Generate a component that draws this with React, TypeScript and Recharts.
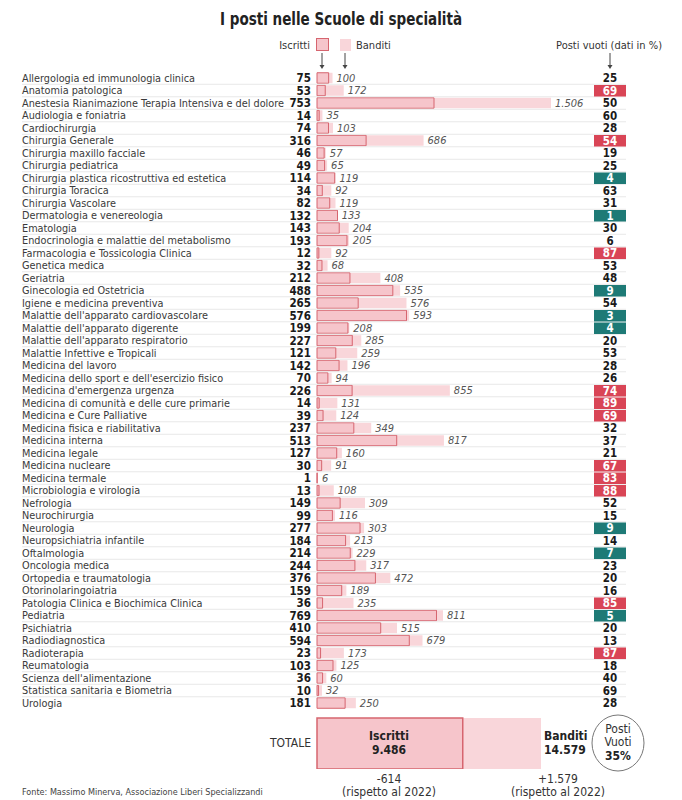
import React from 'react'
import { BarChart, Bar, XAxis, YAxis, LabelList } from 'recharts'

const scuole = [
  'Allergologia ed immunologia clinica',
  'Anatomia patologica',
  'Anestesia Rianimazione Terapia Intensiva e del dolore',
  'Audiologia e foniatria',
  'Cardiochirurgia',
  'Chirurgia Generale',
  'Chirurgia maxillo facciale',
  'Chirurgia pediatrica',
  'Chirurgia plastica ricostruttiva ed estetica',
  'Chirurgia Toracica',
  'Chirurgia Vascolare',
  'Dermatologia e venereologia',
  'Ematologia',
  'Endocrinologia e malattie del metabolismo',
  'Farmacologia e Tossicologia Clinica',
  'Genetica medica',
  'Geriatria',
  'Ginecologia ed Ostetricia',
  'Igiene e medicina preventiva',
  "Malattie dell'apparato cardiovascolare",
  "Malattie dell'apparato digerente",
  "Malattie dell'apparato respiratorio",
  'Malattie Infettive e Tropicali',
  'Medicina del lavoro',
  "Medicina dello sport e dell'esercizio fisico",
  "Medicina d'emergenza urgenza",
  'Medicina di comunità e delle cure primarie',
  'Medicina e Cure Palliative',
  'Medicina fisica e riabilitativa',
  'Medicina interna',
  'Medicina legale',
  'Medicina nucleare',
  'Medicina termale',
  'Microbiologia e virologia',
  'Nefrologia',
  'Neurochirurgia',
  'Neurologia',
  'Neuropsichiatria infantile',
  'Oftalmologia',
  'Oncologia medica',
  'Ortopedia e traumatologia',
  'Otorinolaringoiatria',
  'Patologia Clinica e Biochimica Clinica',
  'Pediatria',
  'Psichiatria',
  'Radiodiagnostica',
  'Radioterapia',
  'Reumatologia',
  "Scienza dell'alimentazione",
  'Statistica sanitaria e Biometria',
  'Urologia',
]

const iscritti = [
  75, 53, 753, 14, 74, 316, 46, 49, 114, 34, 82, 132, 143, 193, 12, 32, 212, 488, 265, 576, 199, 227, 121, 142, 70, 226,
  14, 39, 237, 513, 127, 30, 1, 13, 149, 99, 277, 184, 214, 244, 376, 159, 36, 769, 410, 594, 23, 103, 36, 10, 181,
]

const banditi = [
  100, 172, 1506, 35, 103, 686, 57, 65, 119, 92, 119, 133, 204, 205, 92, 68, 408, 535, 576, 593, 208, 285, 259, 196, 94,
  855, 131, 124, 349, 817, 160, 91, 6, 108, 309, 116, 303, 213, 229, 317, 472, 189, 235, 811, 515, 679, 173, 125, 60, 32,
  250,
]

const postiVuoti = [
  25, 69, 50, 60, 28, 54, 19, 25, 4, 63, 31, 1, 30, 6, 87, 53, 48, 9, 54, 3, 4, 20, 53, 28, 26, 74, 89, 69, 32, 37, 21, 67,
  83, 88, 52, 15, 9, 14, 7, 23, 20, 16, 85, 5, 20, 13, 87, 18, 40, 69, 28,
]

// r = evidenziato rosso, t = evidenziato verde
const evidenza = [
  '', 'r', '', '', '', 'r', '', '', 't', '', '', 't', '', '', 'r', '', '', 't', '', 't', 't', '', '', '', '', 'r', 'r',
  'r', '', '', '', 'r', 'r', 'r', '', '', 't', '', 't', '', '', '', 'r', 't', '', '', 'r', '', '', '', '',
]

const totale = { iscritti: 9486, banditi: 14579, vuoti: 35, deltaIscritti: '-614', deltaBanditi: '+1.579' }

const FONT = "'Liberation Sans Narrow', 'DejaVu Sans Condensed', 'Roboto', sans-serif"
const PINK = '#f6c5cb'
const PINK_LIGHT = '#f9d6da'
const PINK_STROKE = '#d6656f'
const RED = '#d94556'
const TEAL = '#1e7a76'
const COL_X = 610

const fmt = (n: number) => String(n).replace(/\B(?=(\d{3})+(?!\d))/g, '.')

const data = scuole.map((name, i) => ({ name, iscritti: iscritti[i], banditi: banditi[i] }))
const totData = [{ name: 'TOTALE', iscritti: totale.iscritti, banditi: totale.banditi }]

const RowTick = (props: any) => {
  const { y, payload } = props
  const i = payload.index
  const ev = evidenza[i]
  return (
    <g fontFamily={FONT}>
      {i < scuole.length - 1 && (
        <line x1={22} x2={626} y1={y + 6.25} y2={y + 6.25} stroke="#e8e8e8" strokeWidth={1} />
      )}
      <text x={22} y={y} dy="0.36em" fontSize={10.8} fill="#3a3a3a">
        {payload.value}
      </text>
      <text x={311} y={y} dy="0.36em" fontSize={11.5} fontWeight="bold" fill="#1a1a1a" textAnchor="end">
        {iscritti[i]}
      </text>
      {ev && <rect x={COL_X - 16} y={y - 5.5} width={32} height={11.5} fill={ev === 'r' ? RED : TEAL} />}
      <text
        x={COL_X}
        y={y}
        dy="0.36em"
        fontSize={11.5}
        fontWeight="bold"
        fill={ev ? '#ffffff' : '#1a1a1a'}
        textAnchor="middle"
      >
        {postiVuoti[i]}
      </text>
    </g>
  )
}

const BanditoLabel = (props: any) => {
  const { x, y, width, height, value } = props
  return (
    <text
      x={x + width + 4}
      y={y + height / 2}
      dy="0.36em"
      fontSize={11}
      fontStyle="italic"
      fill="#555"
      fontFamily={FONT}
    >
      {fmt(value)}
    </text>
  )
}

const Arrow = ({ x, y1, y2 }: { x: number; y1: number; y2: number }) => (
  <g stroke="#444" strokeWidth={1} fill="#444">
    <line x1={x} x2={x} y1={y1} y2={y2 - 3} />
    <path d={`M${x - 2.5},${y2 - 4} L${x + 2.5},${y2 - 4} L${x},${y2} Z`} stroke="none" />
  </g>
)

export default function App() {
  return (
    <div
      style={{
        position: 'absolute',
        left: 0,
        top: 0,
        width: 682,
        height: 800,
        background: '#fff',
        fontFamily: FONT,
        color: '#333',
      }}
    >
      <svg width={682} height={72} style={{ position: 'absolute', left: 0, top: 0 }} fontFamily={FONT}>
        <text
          x={220}
          y={25}
          fontSize={18}
          fontWeight="bold"
          fill="#222"
          textLength={242}
          lengthAdjust="spacingAndGlyphs"
        >
          I posti nelle Scuole di specialità
        </text>
        <text x={310} y={45} dy="0.36em" fontSize={11} textAnchor="end" fill="#333">
          Iscritti
        </text>
        <rect x={316.5} y={38.5} width={12} height={12} fill={PINK} stroke={PINK_STROKE} />
        <rect x={340} y={39} width={11} height={12} fill={PINK_LIGHT} />
        <text x={356} y={45} dy="0.36em" fontSize={11} fill="#333">
          Banditi
        </text>
        <text x={662} y={45} dy="0.36em" fontSize={11} textAnchor="end" fill="#333">
          Posti vuoti (dati in %)
        </text>
        <Arrow x={322} y1={53} y2={69} />
        <Arrow x={345} y1={53} y2={69} />
        <Arrow x={COL_X} y1={53} y2={69} />
      </svg>

      <div style={{ position: 'absolute', left: 0, top: 0 }}>
        <BarChart
          width={682}
          height={720}
          data={data}
          layout="vertical"
          margin={{ top: 71.75, right: 131, bottom: 10.75, left: 0 }}
          barGap={-10.5}
        >
          <XAxis type="number" domain={[0, 1506]} hide />
          <YAxis
            type="category"
            dataKey="name"
            width={317}
            axisLine={false}
            tickLine={false}
            interval={0}
            tick={<RowTick />}
          />
          <Bar dataKey="banditi" barSize={10.5} fill={PINK_LIGHT} isAnimationActive={false}>
            <LabelList dataKey="banditi" content={<BanditoLabel />} />
          </Bar>
          <Bar
            dataKey="iscritti"
            barSize={10.5}
            fill={PINK}
            stroke={PINK_STROKE}
            strokeWidth={1}
            isAnimationActive={false}
          />
        </BarChart>
      </div>

      <div style={{ position: 'absolute', left: 0, top: 717 }}>
        <BarChart
          width={682}
          height={52}
          data={totData}
          layout="vertical"
          margin={{ top: 0, right: 141, bottom: 0, left: 317 }}
          barGap={-51}
        >
          <XAxis type="number" domain={[0, totale.banditi]} hide />
          <YAxis type="category" dataKey="name" hide />
          <Bar dataKey="banditi" barSize={51} fill={PINK_LIGHT} isAnimationActive={false} />
          <Bar
            dataKey="iscritti"
            barSize={51}
            fill={PINK}
            stroke={PINK_STROKE}
            strokeWidth={1.5}
            isAnimationActive={false}
          />
        </BarChart>
      </div>

      <svg width={682} height={90} style={{ position: 'absolute', left: 0, top: 710 }} fontFamily={FONT}>
        <text x={311} y={33} dy="0.36em" fontSize={12} textAnchor="end" fill="#333">
          TOTALE
        </text>
        <text x={389} y={26} dy="0.36em" fontSize={12} fontWeight="bold" textAnchor="middle" fill="#222">
          Iscritti
        </text>
        <text x={389} y={40} dy="0.36em" fontSize={12} fontWeight="bold" textAnchor="middle" fill="#222">
          {fmt(totale.iscritti)}
        </text>
        <text x={544} y={26} dy="0.36em" fontSize={12} fontWeight="bold" fill="#222">
          Banditi
        </text>
        <text x={544} y={40} dy="0.36em" fontSize={12} fontWeight="bold" fill="#222">
          {fmt(totale.banditi)}
        </text>
        <ellipse cx={618} cy={33} rx={26} ry={28} fill="#fff" stroke="#777" strokeWidth={1} />
        <text x={618} y={19} dy="0.36em" fontSize={12} textAnchor="middle" fill="#333">
          Posti
        </text>
        <text x={618} y={32} dy="0.36em" fontSize={12} textAnchor="middle" fill="#333">
          Vuoti
        </text>
        <text x={618} y={46} dy="0.36em" fontSize={12} fontWeight="bold" textAnchor="middle" fill="#222">
          {totale.vuoti}%
        </text>
        <text x={389} y={69} dy="0.36em" fontSize={12} textAnchor="middle" fill="#333">
          {totale.deltaIscritti}
        </text>
        <text x={389} y={82} dy="0.36em" fontSize={12} textAnchor="middle" fill="#333">
          (rispetto al 2022)
        </text>
        <text x={558} y={69} dy="0.36em" fontSize={12} textAnchor="middle" fill="#333">
          {totale.deltaBanditi}
        </text>
        <text x={558} y={82} dy="0.36em" fontSize={12} textAnchor="middle" fill="#333">
          (rispetto al 2022)
        </text>
        <text x={22} y={82} dy="0.36em" fontSize={9} fill="#444">
          Fonte: Massimo Minerva, Associazione Liberi Specializzandi
        </text>
      </svg>
    </div>
  )
}
